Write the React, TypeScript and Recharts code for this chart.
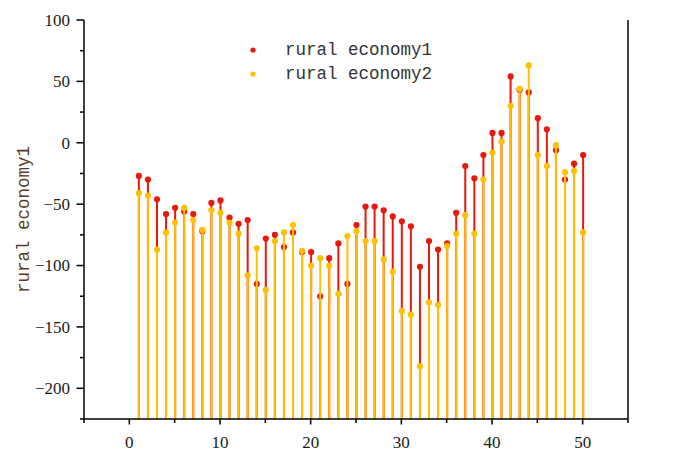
import React from 'react';
import { ComposedChart, Bar, XAxis, YAxis, Legend } from 'recharts';

const X_VALUES = [1, 2, 3, 4, 5, 6, 7, 8, 9, 10, 11, 12, 13, 14, 15, 16, 17, 18, 19, 20, 21, 22, 23, 24, 25, 26, 27, 28, 29, 30, 31, 32, 33, 34, 35, 36, 37, 38, 39, 40, 41, 42, 43, 44, 45, 46, 47, 48, 49, 50];
const ECONOMY1 = [-27, -30, -46, -58, -53, -56, -58, -72, -49, -47, -61, -66, -63, -115, -78, -75, -85, -73, -89, -89, -125, -94, -82, -115, -67, -52, -52, -55, -60, -64, -68, -101, -80, -87, -82, -57, -19, -29, -10, 8, 8, 54, 43, 41, 20, 11, -6, -30, -17, -10];
const ECONOMY2 = [-41, -43, -87, -73, -65, -53, -63, -71, -55, -57, -65, -74, -108, -86, -120, -80, -73, -67, -88, -100, -94, -100, -123, -76, -72, -80, -80, -95, -105, -137, -140, -182, -130, -132, -84, -74, -59, -74, -30, -8, 1, 30, 44, 63, -10, -19, -2, -24, -23, -73];
const X_TICKS = [-5, 0, 5, 10, 15, 20, 25, 30, 35, 40, 45, 50, 55];
const Y_TICKS = [-225, -200, -175, -150, -125, -100, -75, -50, -25, 0, 25, 50, 75, 100];
const X_DOMAIN = [-5, 55];
const Y_DOMAIN = [-225, 100];
const SERIES = [
  { key: 'e1', name: 'rural economy1', color: '#e8180c' },
  { key: 'e2', name: 'rural economy2', color: '#ffc000' },
];

const data = X_VALUES.map((x, i) => ({ x, e1: ECONOMY1[i], e2: ECONOMY2[i] }));

const TICK_FONT = '"Liberation Serif", "DejaVu Serif", serif';
const MONO_FONT = '"Liberation Mono", "DejaVu Sans Mono", monospace';

const fmt = (v: number) => (v < 0 ? '\u2212' + Math.abs(v) : String(v));

const LeftTick = (props: any) => {
  const { x, y, payload } = props;
  const v = payload.value;
  const major = v % 50 === 0;
  return (
    <g>
      <line x1={x - (major ? 7.5 : 4)} x2={x} y1={y} y2={y} stroke="#000" strokeWidth={1.5} />
      {major && (
        <text x={x - 14} y={y} dy="0.35em" textAnchor="end" fontFamily={TICK_FONT} fontSize={17} fill="#1a1a1a">
          {fmt(v)}
        </text>
      )}
    </g>
  );
};

const RightTick = (props: any) => {
  const { x, y, payload } = props;
  const v = payload.value;
  const major = v % 50 === 0;
  return (
    <g>
      <line x1={x - (major ? 7.5 : 4)} x2={x} y1={y} y2={y} stroke="#000" strokeWidth={1.5} />
      {major && (
        <text x={x + 9} y={y} dy="0.35em" textAnchor="start" fontFamily={TICK_FONT} fontSize={17} fill="#1a1a1a">
          {fmt(v)}
        </text>
      )}
    </g>
  );
};

const BottomTick = (props: any) => {
  const { x, y, payload } = props;
  const v = payload.value;
  const major = v % 10 === 0;
  return (
    <g>
      <line x1={x} x2={x} y1={y} y2={y + (major ? 5.5 : 4)} stroke="#000" strokeWidth={1.5} />
      {major && (
        <text x={x} y={y + 28.5} textAnchor="middle" fontFamily={TICK_FONT} fontSize={17} fill="#1a1a1a">
          {fmt(v)}
        </text>
      )}
    </g>
  );
};

const makeStem = (color: string) => (props: any) => {
  const { x, y, width, height } = props;
  if (x == null || y == null) return <g />;
  const cx = x + width / 2;
  return (
    <g>
      <line x1={cx} x2={cx} y1={y} y2={y + height} stroke={color} strokeWidth={2} />
      <circle cx={cx} cy={y} r={3.1} fill={color} />
    </g>
  );
};

const LegendContent = () => (
  <div style={{ fontFamily: MONO_FONT, fontSize: 17.5, color: '#333' }}>
    {SERIES.map((s) => (
      <div key={s.key} style={{ display: 'flex', alignItems: 'center', height: 24 }}>
        <svg width={14} height={14} style={{ display: 'block' }}>
          <circle cx={7} cy={7} r={2.6} fill={s.color} />
        </svg>
        <span style={{ marginLeft: 25, whiteSpace: 'pre', lineHeight: '24px' }}>{s.name}</span>
      </div>
    ))}
  </div>
);

export default function App() {
  return (
    <div style={{ position: 'absolute', left: 0, top: 0, width: 676, height: 453, background: '#fff' }}>
      <ComposedChart width={676} height={453} data={data} margin={{ top: 20, right: 0, bottom: 0, left: 0 }} barGap={-2}>
        <XAxis
          dataKey="x"
          type="number"
          domain={X_DOMAIN}
          ticks={X_TICKS}
          interval={0}
          height={34}
          tickSize={0}
          tickMargin={0}
          tickLine={false}
          axisLine={{ stroke: '#000', strokeWidth: 1.5 }}
          tick={(p: any) => <BottomTick {...p} />}
        />
        <YAxis
          yAxisId="left"
          type="number"
          domain={Y_DOMAIN}
          ticks={Y_TICKS}
          interval={0}
          width={84}
          tickSize={0}
          tickMargin={0}
          tickLine={false}
          axisLine={{ stroke: '#000', strokeWidth: 1.5 }}
          tick={(p: any) => <LeftTick {...p} />}
          label={{
            value: 'rural economy1',
            angle: -90,
            position: 'insideLeft',
            offset: 23,
            style: { textAnchor: 'middle', fontFamily: MONO_FONT, fontSize: 17.5, fill: '#5a3b1c' },
          }}
        />
        <YAxis
          yAxisId="right"
          orientation="right"
          type="number"
          domain={Y_DOMAIN}
          ticks={Y_TICKS}
          interval={0}
          width={48}
          tickSize={0}
          tickMargin={0}
          tickLine={false}
          axisLine={{ stroke: '#000', strokeWidth: 1.5 }}
          tick={(p: any) => <RightTick {...p} />}
        />
        <Legend
          layout="vertical"
          align="center"
          verticalAlign="middle"
          wrapperStyle={{ left: 246, top: 38, width: 'auto' }}
          content={() => <LegendContent />}
        />
        {SERIES.map((s) => (
          <Bar
            key={s.key}
            yAxisId="left"
            name={s.name}
            dataKey={(d: any) => [Y_DOMAIN[0], d[s.key]]}
            fill={s.color}
            barSize={2}
            isAnimationActive={false}
            shape={makeStem(s.color)}
          />
        ))}
      </ComposedChart>
    </div>
  );
}
